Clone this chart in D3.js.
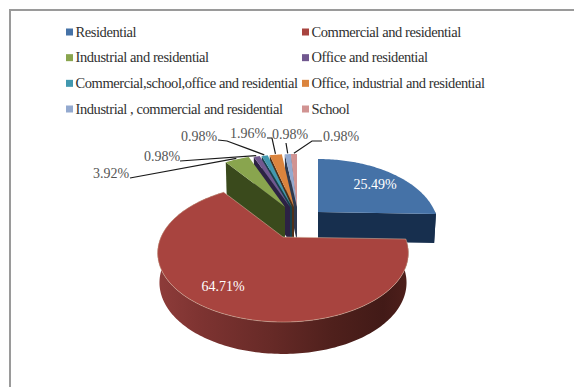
<!DOCTYPE html>
<html>
<head>
<meta charset="utf-8">
<script src="https://cdn.jsdelivr.net/npm/d3@7"></script>
<style>
html,body{margin:0;padding:0;background:#fff;}
svg{display:block;font-family:"Liberation Serif",serif;}
</style>
</head>
<body>
<div id="chart"></div>
<script>
// Land-use shares, in percent
const categories = [
  "Residential",
  "Commercial and residential",
  "Industrial and residential",
  "Office and residential",
  "Commercial,school,office and residential",
  "Office, industrial and residential",
  "Industrial , commercial and residential",
  "School"
];
const shares = [25.49, 64.71, 3.92, 0.98, 0.98, 1.96, 0.98, 0.98];
const topColors = ["#4572A7", "#A8443F", "#89A54E", "#71588F", "#4198AF", "#DB843D", "#93A9CF", "#D19392"];
const wallColors = ["#172F4E", "#6b2b29", "#3A4A1C", "#2C2244", "#17404C", "#4E3018", "#2F3A50", "#4A3432"];

const width = 574, height = 387;
const svg = d3.select("#chart").append("svg").attr("width", width).attr("height", height);

// Frame, open on the right and at the bottom
svg.append("rect").attr("x", 10).attr("y", 10).attr("width", width + 20).attr("height", height + 20)
  .attr("fill", "#fff").attr("stroke", "#9a9a9a").attr("stroke-width", 2);

// Legend: two columns, four rows
const legendCol = d3.scalePoint().domain([0, 1]).range([66, 302]);
const legendRow = d3.scalePoint().domain([0, 1, 2, 3]).range([32, 109]);
const legend = svg.append("g").selectAll("g").data(categories).join("g")
  .attr("transform", (d, i) => `translate(${legendCol(i % 2)},${legendRow(Math.floor(i / 2))})`);
legend.append("rect").attr("y", -3.5).attr("width", 7).attr("height", 7).attr("fill", (d, i) => topColors[i]);
legend.append("text").attr("x", 9.5).attr("y", 4.5).attr("font-size", 14.5).attr("letter-spacing", -0.42)
  .attr("fill", "#303030").text(d => d);

// Perspective of the tilted disc: a polar point maps to a screen offset from its slice's apex
const radius = 122, tilt = 0.232, squash = 65.3, thickness = 29;
const project = (a, r = 1) => {
  const z = r * Math.cos(a), w = 1 + tilt * z;
  return [radius * r * Math.sin(a) / w, -squash * z / w];
};
const wallDrop = a => thickness * (1 - 0.1 * Math.cos(a));

const slices = d3.pie().value(d => d).sort(null)(shares);
// Where each pulled-out slice's apex sits on the page, and its horizontal reach
const apexX = [318, 283, 285, 290, 292, 294, 297, 297];
const apexY = [212, 237, 207, 207, 207, 207, 207, 207];
const reach = [0.96, 1, 1, 1, 1, 1, 1, 1];

const path = d3.line();
const arcAngles = (a0, a1) => {
  const n = Math.max(2, Math.ceil((a1 - a0) / 0.02));
  return d3.range(n + 1).map(i => a0 + (a1 - a0) * i / n);
};
const toPage = (i, p, dy = 0, shrink = 1) => [apexX[i] + p[0] * shrink * reach[i], apexY[i] + p[1] + dy];

const defs = svg.append("defs");
const wallGrad = defs.append("linearGradient").attr("id", "redWall").attr("gradientUnits", "userSpaceOnUse")
  .attr("x1", 157).attr("x2", 408).attr("y1", 0).attr("y2", 0);
[[0, "#8e3c3a"], [0.18, "#7d3331"], [0.45, "#672a27"], [0.7, "#4f201c"], [0.9, "#421a17"], [1, "#4e1f1b"]]
  .forEach(([o, c]) => wallGrad.append("stop").attr("offset", o).attr("stop-color", c));

const pie = svg.append("g");

// Walls that face the viewer on the radial cut of each slice
const radialWall = (i, a, extra = 0) => {
  const rim = project(a);
  const drop = wallDrop(a) + extra;
  return path([
    toPage(i, rim), toPage(i, [0, 0]),
    toPage(i, [0, 0], thickness + extra), toPage(i, rim, drop, 0.985)
  ]) + "Z";
};
const topFace = (i, s) => {
  const pts = arcAngles(s.startAngle, s.endAngle).map(a => toPage(i, project(a)));
  return path([toPage(i, [0, 0]), ...pts]) + "Z";
};
const rimWall = (i, a0, a1) => {
  const angles = arcAngles(a0, a1);
  const upper = angles.map(a => toPage(i, project(a)));
  const lower = angles.slice().reverse().map(a => toPage(i, project(a), wallDrop(a), 0.985));
  return path([...upper, ...lower]) + "Z";
};

// Back cluster of small slices: walls from the right so the left ones sit in front,
// with the lower edge tucked behind the large slice
[7, 6, 5, 4, 3, 2].forEach(i => {
  pie.append("path").attr("d", radialWall(i, slices[i].startAngle, 6)).attr("fill", wallColors[i]);
});
[2, 3, 4, 5, 6, 7].forEach(i => {
  pie.append("path").attr("d", topFace(i, slices[i])).attr("fill", topColors[i]);
});

// Residential slice
pie.append("path").attr("d", radialWall(0, slices[0].endAngle)).attr("fill", wallColors[0]);
pie.append("path").attr("d", rimWall(0, Math.PI / 2 - 0.02, slices[0].endAngle)).attr("fill", wallColors[0]);
pie.append("path").attr("d", topFace(0, slices[0])).attr("fill", topColors[0]);

// Large front slice
pie.append("path").attr("d", rimWall(1, slices[1].startAngle, slices[1].endAngle)).attr("fill", "url(#redWall)");
pie.append("path").attr("d", topFace(1, slices[1])).attr("fill", topColors[1])
  .attr("stroke", "#d8c0a8").attr("stroke-width", 0.5);

// Value labels
const fmt = v => v.toFixed(2) + "%";
const labelAt = [[375, 184], [223, 286], [111, 173], [162, 156], [199, 136], [248, 133], [290, 134], [341, 136]];
const labelFill = ["#fff", "#fff", "#555", "#555", "#555", "#555", "#555", "#555"];
svg.append("g").selectAll("text").data(slices).join("text")
  .attr("x", (d, i) => labelAt[i][0]).attr("y", (d, i) => labelAt[i][1] + 4.5)
  .attr("text-anchor", "middle").attr("font-size", 14)
  .attr("fill", (d, i) => labelFill[i]).text(d => fmt(d.data));

// Leader lines: label end, optional elbow, then onto the slice's rim
const leaderStart = [null, null, [130, 178], [180, 161], [218, 140], [267, 138], [286, 143], [322, 141]];
const leaderElbow = [null, null, null, null, [227, 141], [272, 138], null, [312, 141]];
const leaders = svg.append("g").attr("fill", "none").attr("stroke", "#1a1a1a").attr("stroke-width", 1.2);
slices.forEach((s, i) => {
  if (!leaderStart[i]) return;
  const mid = (s.startAngle + s.endAngle) / 2;
  const end = toPage(i, project(mid, 1.02));
  const pts = [leaderStart[i]];
  if (leaderElbow[i]) pts.push(leaderElbow[i]);
  pts.push(end);
  leaders.append("path").attr("d", path(pts));
});
</script>
</body>
</html>
